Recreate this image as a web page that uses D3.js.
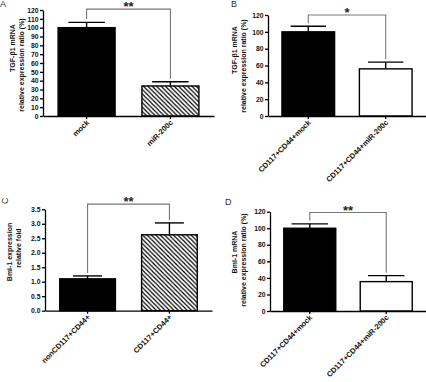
<!DOCTYPE html>
<html lang="en">
<head>
<meta charset="utf-8">
<title>TGF-β1 / Bml-1 expression</title>
<script src="https://cdn.jsdelivr.net/npm/d3@7"></script>
<style>
	body { margin: 0; background: #fff; }
	svg { font-family: "Liberation Sans", Arial, sans-serif; }
	.axis path, .axis line { stroke: #000; stroke-width: 1.3; }
	.axis text { font-size: 6.8px; font-weight: bold; fill: #111; }
</style>
</head>
<body>
<svg id="chart" width="426" height="382"></svg>
<script>
	// data
	var letters = ["A", "B", "C", "D"];

	var catsA = ["mock", "miR-200c"];
	var valsA = [100, 34];
	var errA  = [6, 4.8];

	var catsB = ["CD117+CD44+mock", "CD117+CD44+miR-200c"];
	var valsB = [100, 56];
	var errB  = [6.7, 8];

	var catsC = ["nonCD117+CD44+", "CD117+CD44+"];
	var valsC = [1.1, 2.62];
	var errC  = [0.1, 0.41];

	var catsD = ["CD117+CD44+mock", "CD117+CD44+miR-200c"];
	var valsD = [100, 35.5];
	var errD  = [5.3, 7.2];

	var ticksA = [0, 10, 20, 30, 40, 50, 60, 70, 80, 90, 100, 110, 120];
	var ticksB = [0, 20, 40, 60, 80, 100, 120];
	var ticksC = [0, 0.5, 1.0, 1.5, 2.0, 2.5, 3.0, 3.5];
	var ticksD = [0, 20, 40, 60, 80, 100, 120];

	var stars    = ["**", "*", "**", "**"];
	var starLvl  = [121, 120, 3.68, 119];

	var titlesA = ["TGF-β1 mRNA", "relative expression ratio (%)"];
	var titlesB = ["TGF-β1 mRNA", "relative expression ratio (%)"];
	var titlesC = ["Bml-1 expression", "relative fold"];
	var titlesD = ["Bml-1 mRNA", "relative expression ratio (%)"];

	// second bar: hatched in A and C, open in B and D
	var fillsA = ["solid", "hatch"];
	var fillsB = ["solid", "open"];
	var fillsC = ["solid", "hatch"];
	var fillsD = ["solid", "open"];

	// page layout for each panel (pixels)
	var panels = [
		{ cats: catsA, vals: valsA, errs: errA, ticks: ticksA, titles: titlesA, fills: fillsA,
		  left: 43, right: 214, top: 10, bottom: 116, cap: 0.64, fmt: "d",
		  t1: [14.5, 48], t2: [24, 65], letter: [0, 7, 0] },
		{ cats: catsB, vals: valsB, errs: errB, ticks: ticksB, titles: titlesB, fills: fillsB,
		  left: 268, right: 426, top: 15, bottom: 116, cap: 0.67, fmt: "d",
		  t1: [237, 50], t2: [245.5, 66], letter: [231, 7, 0] },
		{ cats: catsC, vals: valsC, errs: errC, ticks: ticksC, titles: titlesC, fills: fillsC,
		  left: 45, right: 212, top: 209.3, bottom: 310.7, cap: 0.52, fmt: ".1f",
		  t1: [12, 252], t2: [21, 248], letter: [8, 204, -90] },
		{ cats: catsD, vals: valsD, errs: errD, ticks: ticksD, titles: titlesD, fills: fillsD,
		  left: 270, right: 426, top: 211.7, bottom: 311, cap: 0.7, fmt: "d",
		  t1: [237, 252], t2: [245.5, 260], letter: [225, 205, 0] }
	];

	var svg = d3.select("#chart");

	// diagonal hatch
	svg.append("defs").append("pattern")
		.attr("id", "hatch")
		.attr("patternUnits", "userSpaceOnUse")
		.attr("width", 4.4)
		.attr("height", 4.4)
		.append("path")
		.attr("d", "M0,0 L4.4,4.4 M-1.1,3.3 L1.1,5.5 M3.3,-1.1 L5.5,1.1")
		.attr("stroke", "#000")
		.attr("stroke-width", 1.2);

	panels.forEach(function(p, i) {
		var g = svg.append("g");

		var x = d3.scaleBand()
			.domain(p.cats)
			.range([p.left, p.right])
			.paddingInner(0.32)
			.paddingOuter(0.18);

		var y = d3.scaleLinear()
			.domain([0, d3.max(p.ticks)])
			.range([p.bottom, p.top]);

		var bw = x.bandwidth();

		// bars
		g.append("g").selectAll("rect")
			.data(p.cats)
			.enter().append("rect")
			.attr("x", function(c) { return x(c); })
			.attr("y", function(c, j) { return y(p.vals[j]); })
			.attr("width", bw)
			.attr("height", function(c, j) { return y(0) - y(p.vals[j]); })
			.attr("fill", function(c, j) {
				if (p.fills[j] == "solid") return "#000";
				if (p.fills[j] == "hatch") return "url(#hatch)";
				return "#fff";
			})
			.attr("stroke", "#000")
			.attr("stroke-width", 1.4);

		// error bars (upper half only)
		var eb = g.append("g").attr("stroke", "#000").attr("stroke-width", 1.4);
		p.cats.forEach(function(c, j) {
			var cx = x(c) + bw / 2;
			var yt = y(p.vals[j] + p.errs[j]);
			eb.append("line")
				.attr("x1", cx).attr("x2", cx)
				.attr("y1", y(p.vals[j])).attr("y2", yt);
			eb.append("line")
				.attr("x1", cx - bw * p.cap / 2).attr("x2", cx + bw * p.cap / 2)
				.attr("y1", yt).attr("y2", yt);
		});

		// axes
		g.append("g")
			.attr("class", "axis")
			.attr("transform", "translate(" + p.left + ",0)")
			.call(d3.axisLeft(y).tickValues(p.ticks).tickSize(3).tickSizeOuter(0)
				.tickPadding(1.5).tickFormat(d3.format(p.fmt)));

		g.append("g")
			.attr("class", "axis")
			.attr("transform", "translate(0," + p.bottom + ")")
			.call(d3.axisBottom(x).tickSize(3).tickSizeOuter(0).tickFormat(""));

		// rotated category labels
		g.append("g").selectAll("text")
			.data(p.cats)
			.enter().append("text")
			.attr("transform", function(c) {
				return "translate(" + (x(c) + bw / 2 + 3) + "," + (p.bottom + 7) + ") rotate(-45)";
			})
			.attr("text-anchor", "end")
			.attr("font-size", "7.5px")
			.attr("font-weight", "bold")
			.attr("fill", "#111")
			.text(function(c) { return c; });

		// significance bracket
		var x1 = x(p.cats[0]) + bw / 2;
		var x2 = x(p.cats[1]) + bw / 2;
		var yl = y(starLvl[i]);
		g.append("path")
			.attr("d", "M" + x1 + "," + (y(p.vals[0] + p.errs[0]) - 3) +
				"V" + yl + "H" + x2 + "V" + (y(p.vals[1] + p.errs[1]) - 3))
			.attr("fill", "none")
			.attr("stroke", "#777")
			.attr("stroke-width", 1.1);
		g.append("text")
			.attr("x", (x1 + x2) / 2)
			.attr("y", yl + 2)
			.attr("text-anchor", "middle")
			.attr("font-size", "13px")
			.attr("font-weight", "bold")
			.attr("fill", "#222")
			.text(stars[i]);

		// y titles, two lines
		[p.t1, p.t2].forEach(function(pos, k) {
			g.append("text")
				.attr("transform", "translate(" + pos[0] + "," + pos[1] + ") rotate(-90)")
				.attr("text-anchor", "middle")
				.attr("font-size", "7px")
				.attr("font-weight", "bold")
				.attr("fill", "#111")
				.text(p.titles[k]);
		});

		// panel letter
		g.append("text")
			.attr("transform", "translate(" + p.letter[0] + "," + p.letter[1] + ") rotate(" + p.letter[2] + ")")
			.attr("font-size", "9px")
			.attr("fill", "#333")
			.text(letters[i]);
	});
</script>
</body>
</html>
